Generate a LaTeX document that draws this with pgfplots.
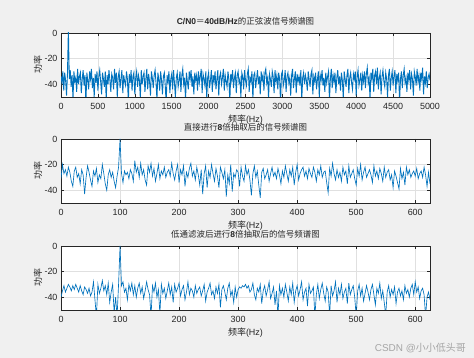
\documentclass[border=0pt]{standalone}
\usepackage{fontspec}
\setmainfont{Liberation Sans}
\newfontfamily\cjk{Noto Sans CJK SC}
\usepackage{pgfplots}
\pgfplotsset{compat=1.18}
\definecolor{mblue}{RGB}{0,114,189}
\definecolor{bg}{RGB}{240,240,240}
\definecolor{axc}{RGB}{38,38,38}
\definecolor{wm}{RGB}{165,165,165}
\pgfplotsset{myax/.style={
  scale only axis, width=369bp, height=64bp,
  ymin=-50, ymax=0, ytick={-40,-20,0},
  axis background/.style={fill=white},
  grid=major, major grid style={black!12, line width=0.4bp},
  axis line style={axc, line width=0.5bp},
  tick style={axc, line width=0.5bp}, tick align=inside,
  major tick length=3bp,
  ticklabel style={font=\fontsize{9}{10}\selectfont, text=axc},
  xticklabel style={yshift=-3bp},
  /pgf/number format/assume math mode=true,
  /pgf/number format/1000 sep={},
  title style={at={(axis description cs:0.5,1)}, anchor=south, inner sep=1.5bp, font=\fontsize{8.5}{9}\selectfont, text=axc},
  xlabel style={at={(axis description cs:0.5,0)}, anchor=center, yshift=-22.5bp, font=\fontsize{9}{10}\selectfont, text=axc},
  ylabel style={at={(axis description cs:-0.0623,0.5)}, anchor=center, font=\fontsize{9}{10}\selectfont, text=axc},
  xlabel={{\cjk 频率}(Hz)}, ylabel={\cjk 功率},
}}
\begin{document}
\begin{tikzpicture}
\path[fill=bg] (0,0) rectangle (474bp,358bp);
\begin{axis}[myax, at={(61bp,261bp)}, anchor=south west,
  xmin=0, xmax=5000, xtick={0,500,...,5000},
  title={\textbf{C/N0}{\cjk ＝}\textbf{40dB/Hz}{\cjk 的正弦波信号频谱图}}]
\addplot[mblue, line width=0.9bp, no markers] table[row sep=\\, x expr=\coordindex*12.5, y=y] {y\\
-34\\-39\\-30\\-45\\-31\\-37\\-49\\-32\\3\\-36\\
-29\\-42\\-33\\-52\\-30\\-38\\-35\\-46\\-28\\-40\\
-34\\-31\\-47\\-36\\-29\\-41\\-33\\-55\\-31\\-37\\
-44\\-30\\-36\\-28\\-43\\-35\\-50\\-32\\-39\\-30\\
-45\\-34\\-29\\-38\\-48\\-31\\-36\\-42\\-30\\-53\\
-33\\-40\\-29\\-37\\-46\\-32\\-35\\-44\\-28\\-39\\
-31\\-50\\-34\\-30\\-43\\-36\\-29\\-47\\-33\\-38\\
-41\\-30\\-36\\-54\\-32\\-39\\-29\\-45\\-34\\-31\\
-48\\-35\\-30\\-42\\-33\\-37\\-51\\-29\\-40\\-34\\
-31\\-46\\-36\\-28\\-44\\-32\\-38\\-49\\-30\\-35\\
-43\\-33\\-29\\-39\\-52\\-31\\-36\\-45\\-30\\-37\\
-48\\-34\\-31\\-41\\-55\\-33\\-38\\-30\\-47\\-36\\
-32\\-44\\-29\\-39\\-50\\-35\\-31\\-42\\-37\\-30\\
-46\\-33\\-28\\-40\\-35\\-53\\-31\\-38\\-44\\-30\\
-36\\-29\\-42\\-34\\-48\\-31\\-37\\-33\\-45\\-30\\
-39\\-34\\-28\\-47\\-32\\-36\\-41\\-30\\-51\\-35\\
-31\\-43\\-37\\-29\\-46\\-33\\-38\\-30\\-44\\-36\\
-29\\-49\\-34\\-31\\-40\\-35\\-28\\-45\\-33\\-38\\
-42\\-30\\-36\\-54\\-32\\-37\\-29\\-43\\-35\\-31\\
-47\\-33\\-30\\-39\\-36\\-50\\-31\\-34\\-44\\-29\\
-37\\-41\\-32\\-28\\-46\\-35\\-38\\-30\\-52\\-33\\
-31\\-43\\-36\\-29\\-40\\-34\\-48\\-30\\-37\\-33\\
-45\\-31\\-28\\-39\\-35\\-51\\-32\\-36\\-42\\-30\\
-34\\-47\\-29\\-38\\-33\\-44\\-31\\-36\\-55\\-32\\
-30\\-41\\-37\\-29\\-46\\-34\\-31\\-39\\-35\\-49\\
-33\\-28\\-43\\-36\\-30\\-47\\-32\\-38\\-34\\-41\\
-29\\-52\\-35\\-31\\-40\\-33\\-37\\-45\\-30\\-36\\
-42\\-32\\-29\\-48\\-34\\-38\\-31\\-44\\-36\\-30\\
-50\\-33\\-37\\-29\\-41\\-35\\-46\\-31\\-39\\-34\\
-30\\-53\\-36\\-28\\-43\\-33\\-38\\-31\\-47\\-35\\
-29\\-40\\-34\\-45\\-31\\-37\\-51\\-30\\-36\\-42\\
-33\\-28\\-47\\-35\\-31\\-39\\-44\\-32\\-36\\-30\\
-49\\-34\\-29\\-41\\-37\\-31\\-45\\-33\\-38\\-30\\
-43\\-32\\-27\\-39\\-35\\-52\\-31\\-36\\-28\\-46\\
-33\\-30\\-40\\-27\\-44\\-35\\-31\\-48\\-34\\-29\\
-38\\-42\\-31\\-36\\-50\\-33\\-28\\-45\\-35\\-30\\
-41\\-34\\-29\\-47\\-32\\-37\\-31\\-54\\-36\\-30\\
-43\\-33\\-28\\-39\\-35\\-46\\-31\\-37\\-29\\-44\\
-32\\-36\\-49\\-30\\-34\\-41\\-28\\-38\\-33\\-45\\
-31\\-36\\-27\\-48\\-34\\-39\\-30\\-43\\-35\\-32\\-37\\
};
\end{axis}
\begin{axis}[myax, at={(61bp,155bp)}, anchor=south west,
  xmin=0, xmax=625, xtick={0,100,...,600},
  title={{\cjk 直接进行}\textbf{8}{\cjk 倍抽取后的信号频谱图}}]
\addplot[mblue, line width=0.65bp, no markers] table[row sep=\\, x expr=\coordindex*2.5, y=y] {y\\
-31\\-20\\-27\\-24\\-29\\-22\\-26\\-33\\-37\\-25\\
-22\\-30\\-27\\-35\\-24\\-28\\-43\\-30\\-21\\-26\\
-32\\-37\\-25\\-29\\-23\\-34\\-28\\-31\\-20\\-27\\
-35\\-40\\-28\\-24\\-30\\-26\\-33\\-38\\-29\\-22\\
0\\
-27\\-34\\-25\\-28\\-26\\-31\\-24\\-27\\-33\\
-17\\-26\\-22\\-30\\-19\\-28\\-24\\-32\\-36\\-21\\
-26\\-19\\-29\\-23\\-33\\-27\\-20\\-31\\-25\\-28\\
-22\\-30\\-26\\-24\\-29\\-19\\-27\\-32\\-25\\-20\\
-34\\-24\\-28\\-21\\-37\\-26\\-30\\-23\\-19\\-29\\
-25\\-32\\-22\\-28\\-36\\-24\\-43\\-27\\-21\\-38\\
-25\\-30\\-20\\-27\\-33\\-23\\-29\\-38\\-22\\-26\\
-31\\-24\\-45\\-28\\-35\\-20\\-41\\-27\\-30\\-24\\
-26\\-37\\-22\\-29\\-33\\-21\\-28\\-24\\-32\\-44\\
-27\\-21\\-30\\-25\\-36\\-46\\-26\\-23\\-31\\-28\\
-24\\-33\\-27\\-22\\-29\\-26\\-31\\-23\\-28\\-35\\
-25\\-30\\-21\\-27\\-33\\-24\\-29\\-22\\-36\\-26\\
-20\\-32\\-27\\-24\\-22\\-29\\-25\\-31\\-23\\-27\\
-30\\-22\\-26\\-33\\-24\\-28\\-21\\-30\\-26\\-25\\
-34\\-42\\-23\\-29\\-19\\-27\\-32\\-24\\-30\\-26\\
-33\\-22\\-28\\-25\\-35\\-21\\-30\\-27\\-24\\-31\\
-36\\-23\\-29\\-20\\-32\\-26\\-22\\-30\\-27\\-24\\
-28\\-34\\-21\\-29\\-25\\-31\\-23\\-27\\-33\\-22\\
-30\\-26\\-24\\-32\\-28\\-38\\-25\\-29\\-34\\-39\\
-23\\-31\\-26\\-36\\-22\\-28\\-24\\-30\\-27\\-25\\
-29\\-23\\-31\\-27\\-25\\-30\\-22\\-28\\-37\\-26\\
-35\\
};
\end{axis}
\begin{axis}[myax, at={(61bp,48bp)}, anchor=south west,
  xmin=0, xmax=625, xtick={0,100,...,600},
  title={{\cjk 低通滤波后进行}\textbf{8}{\cjk 倍抽取后的信号频谱图}}]
\addplot[mblue, line width=0.65bp, no markers] table[row sep=\\, x expr=\coordindex*2.5, y=y] {y\\
-40\\-35\\-31\\-36\\-33\\-30\\-32\\-35\\-31\\-34\\
-30\\-33\\-36\\-31\\-35\\-38\\-32\\-34\\-37\\-33\\
-39\\-36\\-28\\-42\\-55\\-30\\-37\\-33\\-27\\-35\\
-31\\-38\\-29\\-44\\-36\\-30\\-52\\-40\\-55\\-30\\
0\\
-31\\-28\\-36\\-33\\-42\\-30\\-35\\-29\\-38\\
-31\\-40\\-33\\-29\\-37\\-32\\-41\\-35\\-28\\-34\\
-38\\-55\\-31\\-36\\-29\\-40\\-34\\-53\\-30\\-37\\
-33\\-41\\-35\\-29\\-38\\-32\\-44\\-30\\-36\\-33\\
-29\\-39\\-34\\-31\\-42\\-36\\-28\\-38\\-33\\-35\\
-40\\-31\\-37\\-34\\-32\\-39\\-35\\-30\\-43\\-36\\
-33\\-29\\-38\\-35\\-41\\-32\\-37\\-30\\-48\\-34\\
-31\\-36\\-42\\-33\\-29\\-39\\-35\\-44\\-32\\-40\\
-34\\-32\\-33\\-31\\-32\\-30\\-33\\-31\\-36\\-34\\
-29\\-38\\-42\\-33\\-36\\-30\\-45\\-35\\-31\\-39\\
-34\\-28\\-41\\-37\\-32\\-46\\-35\\-55\\-31\\-38\\
-33\\-40\\-30\\-36\\-43\\-32\\-38\\-29\\-44\\-35\\
-31\\-39\\-34\\-28\\-42\\-36\\-33\\-47\\-30\\-37\\
-35\\-32\\-55\\-38\\-30\\-41\\-34\\-29\\-37\\-43\\
-32\\-36\\-54\\-31\\-39\\-35\\-28\\-44\\-33\\-38\\
-30\\-41\\-36\\-33\\-45\\-29\\-38\\-34\\-31\\-40\\
-55\\-35\\-30\\-39\\-33\\-43\\-37\\-31\\-36\\-42\\
-34\\-30\\-38\\-46\\-33\\-37\\-29\\-41\\-35\\-44\\
-54\\-36\\-31\\-40\\-34\\-38\\-32\\-45\\-36\\-33\\
-39\\-35\\-42\\-31\\-37\\-34\\-40\\-33\\-30\\-38\\
-28\\-36\\-32\\-41\\-35\\-33\\-38\\-55\\-40\\-36\\
-42\\
};
\end{axis}
\node[anchor=east, text=wm, font=\fontsize{10}{11}\selectfont, inner sep=0pt] at (466bp,10bp) {CSDN @{\cjk 小小低头哥}};
\pgfresetboundingbox
\path[use as bounding box] (0,0) rectangle (474bp,358bp);
\end{tikzpicture}
\end{document}
